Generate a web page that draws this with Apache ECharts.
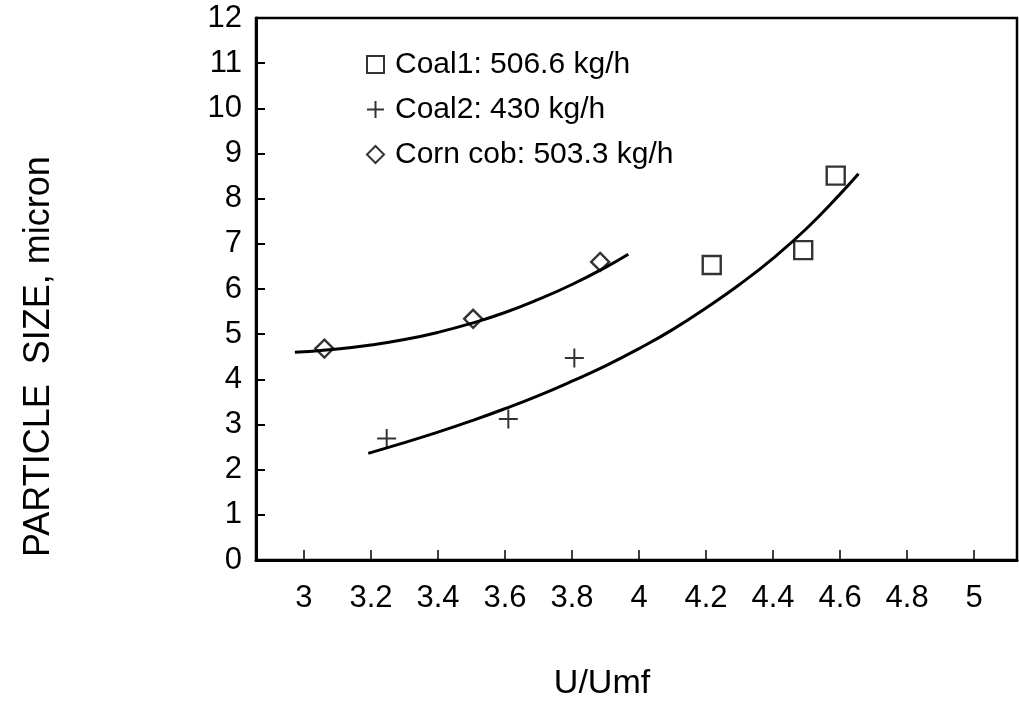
<!DOCTYPE html>
<html>
<head>
<meta charset="utf-8">
<script src="https://cdn.jsdelivr.net/npm/echarts@6/dist/echarts.min.js"></script>
<style>
html,body{margin:0;padding:0;background:#fff;}
#chart{width:1019px;height:728px;}
</style>
</head>
<body>
<div id="chart"></div>
<script>
// ---- data ----
const seriesNames = ['Coal1: 506.6 kg/h', 'Coal2: 430 kg/h', 'Corn cob: 503.3 kg/h'];
const coal1Points = [[4.217, 6.53], [4.490, 6.86], [4.587, 8.51]];
const coal2Points = [[3.247, 2.69], [3.610, 3.12], [3.807, 4.47]];
const cornPoints  = [[3.061, 4.68], [3.505, 5.34], [3.884, 6.60]];
// fitted curves
const cornCurve = [[2.973, 4.60], [3.0, 4.61], [3.1, 4.67], [3.2, 4.76], [3.3, 4.88], [3.4, 5.04],
                   [3.5, 5.24], [3.6, 5.48], [3.7, 5.77], [3.8, 6.10], [3.9, 6.48], [3.968, 6.77]];
const coalCurve = [[3.192, 2.36], [3.3, 2.60], [3.4, 2.83], [3.5, 3.08], [3.6, 3.35], [3.7, 3.64],
                   [3.8, 3.96], [3.9, 4.30], [4.0, 4.68], [4.1, 5.10], [4.2, 5.58], [4.3, 6.10],
                   [4.4, 6.68], [4.5, 7.34], [4.6, 8.10], [4.655, 8.55]];
const xTicks = [3, 3.2, 3.4, 3.6, 3.8, 4, 4.2, 4.4, 4.6, 4.8, 5];
const xTickLabels = ['3', '3.2', '3.4', '3.6', '3.8', '4', '4.2', '4.4', '4.6', '4.8', '5'];
const yTitle = 'PARTICLE  SIZE, micron';
const xTitle = 'U/Umf';

const FONT = '"Liberation Sans", Arial, Helvetica, sans-serif';
const plusPath = 'path://M0,8 L16,8 M8,0 L8,16';
const hollow = {color: 'rgba(0,0,0,0)', borderColor: '#000', borderWidth: 2.4};

const chart = echarts.init(document.getElementById('chart'), null, {renderer: 'canvas'});
chart.setOption({
  animation: false,
  backgroundColor: '#fff',
  grid: {left: 256, right: 2, top: 18, bottom: 168, show: true, borderColor: '#000', borderWidth: 2.5, containLabel: false},
  legend: {
    orient: 'vertical', left: 361, top: 44, itemGap: 14, itemWidth: 17, itemHeight: 17,
    data: [
      {name: seriesNames[0], icon: 'rect'},
      {name: seriesNames[1], icon: plusPath},
      {name: seriesNames[2], icon: 'diamond'}
    ],
    itemStyle: {color: 'rgba(0,0,0,0)', borderColor: '#000', borderWidth: 2},
    textStyle: {fontFamily: FONT, fontSize: 30, color: '#000', lineHeight: 31, padding: [0, 0, 0, 6]}
  },
  xAxis: {
    type: 'value', min: 2.857, max: 5.128,
    splitLine: {show: false},
    axisLine: {lineStyle: {color: '#000', width: 3}},
    axisTick: {inside: true, length: 10, lineStyle: {color: '#000', width: 1.5}, customValues: xTicks},
    axisLabel: {
      customValues: xTicks, margin: 23, color: '#000', fontFamily: FONT, fontSize: 31,
      formatter: v => { const i = xTicks.findIndex(t => Math.abs(t - v) < 1e-6); return i >= 0 ? xTickLabels[i] : ''; }
    }
  },
  yAxis: {
    type: 'value', min: 0, max: 12, interval: 1,
    splitLine: {show: false},
    axisLine: {lineStyle: {color: '#000', width: 3}},
    axisTick: {inside: true, length: 9, lineStyle: {color: '#000', width: 2}},
    axisLabel: {margin: 14, color: '#000', fontFamily: FONT, fontSize: 31}
  },
  graphic: [
    {type: 'text', x: 21, y: 557, rotation: Math.PI / 2, style: {text: yTitle, font: '36px ' + FONT, fill: '#000'}},
    {type: 'text', x: 602, y: 684, style: {text: xTitle, font: '34px ' + FONT, fill: '#000', align: 'center', verticalAlign: 'middle'}}
  ],
  series: [
    {name: seriesNames[0], type: 'scatter', data: coal1Points, symbol: 'rect', symbolSize: 18, itemStyle: hollow, z: 5},
    {name: seriesNames[1], type: 'scatter', data: coal2Points, symbol: plusPath, symbolSize: 19, itemStyle: {color: 'rgba(0,0,0,0)', borderColor: '#000', borderWidth: 2}, z: 5},
    {name: seriesNames[2], type: 'scatter', data: cornPoints, symbol: 'diamond', symbolSize: 18, itemStyle: hollow, z: 5},
    {name: 'corn fit', type: 'line', data: cornCurve, smooth: 0.5, showSymbol: false, lineStyle: {color: '#000', width: 3}, z: 3},
    {name: 'coal fit', type: 'line', data: coalCurve, smooth: 0.5, showSymbol: false, lineStyle: {color: '#000', width: 3}, z: 3}
  ]
});
</script>
</body>
</html>
